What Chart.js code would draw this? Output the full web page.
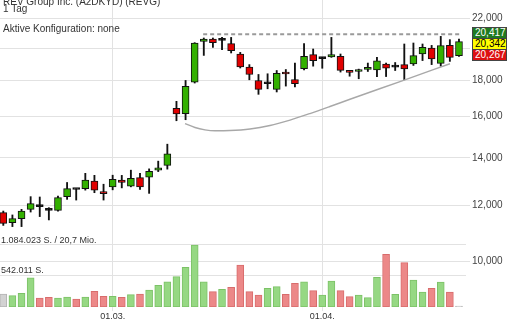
<!DOCTYPE html>
<html>
<head>
<meta charset="utf-8">
<script src="https://cdn.jsdelivr.net/npm/chart.js@4/dist/chart.umd.min.js"></script>
<style>
html,body{margin:0;padding:0;background:#fff;}
#wrap{position:relative;width:510px;height:320px;overflow:hidden;background:#fff;font-family:"Liberation Sans",Arial,sans-serif;}
#c{position:absolute;left:0;top:0;}
.t{position:absolute;white-space:nowrap;color:#333;font-size:10px;line-height:10px;}
.s{font-size:9px;line-height:9px;}
.q{position:absolute;left:472px;width:35px;height:12px;box-sizing:border-box;font-size:10px;line-height:10px;padding-left:2px;border:1px solid #444;}
</style>
</head>
<body>
<div id="wrap">
<canvas id="c" width="510" height="320"></canvas>
<div class="t" style="left:3px;top:-3px;">REV Group Inc. (A2DKYD) (REVG)</div>
<div class="t" style="left:3px;top:4px;">1 Tag</div>
<div class="t" style="left:3px;top:23.5px;">Aktive Konfiguration: none</div>
<div class="t s" id="volMax" style="left:1px;top:236px;"></div>
<div class="t s" id="volHalf" style="left:1px;top:266px;"></div>
<div class="q" id="q0" style="top:27px;background:#1f7a1f;color:#fff;"></div>
<div class="q" id="q1" style="top:38px;background:#ffff00;color:#000;"></div>
<div class="q" id="q2" style="top:49px;background:#dd1111;color:#fff;"></div>
</div>
<script>
// ---- data ----
const opens  = [11719,11345,11493,11845,11950,11807,11807,12344,12634,12669,12985,12528,12743,13024,12770,13128,13154,13452,13662,16442,16155,17907,20433,20593,20500,20283,19614,18804,18000,17808,17482,18497,18058,18697,19574,19325,19430,19462,18580,18533,18650,18630,18982,18800,18950,19000,19614,20000,19028,20170,19507];
const highs  = [11780,11632,11845,12344,12330,11910,12370,12925,12662,13314,13228,12852,13234,13226,13452,13314,13509,13852,14636,16821,18000,20350,20660,20660,20700,20700,19718,18950,18354,18395,18591,18650,19046,20283,19935,19400,20700,19614,18600,18675,19046,19400,19046,19080,20262,20327,20262,20170,20770,20550,20593];
const lows   = [11243,11200,11200,11742,11570,11445,11780,12236,12208,12608,12503,12208,12620,12700,12743,12637,12476,13390,13497,15793,15845,17850,19525,20040,19890,19680,18743,18040,17207,17520,17340,17674,17620,18630,18855,18727,19400,18497,18250,18100,18533,18230,18230,18590,18040,18900,19200,18950,18855,19150,19462];
const closes = [11319,11493,11780,12066,11950,11807,12305,12669,12634,13028,12608,12463,13057,12929,13099,12743,13398,13556,14180,16141,17653,20327,20593,20348,20500,19826,18804,18354,17482,17808,18420,18380,17808,19462,19200,19325,19574,18600,18478,18650,18790,19180,18726,18800,18690,19507,20040,19300,20150,19400,20417];
const volumes = [227000,198000,240000,512000,157000,169000,157000,175000,140000,175000,274000,187000,187000,170000,215000,227000,297000,379000,442000,530000,694000,1084023,442000,268000,309000,344000,734000,268000,210000,327000,355000,222000,414000,442000,285000,210000,455000,285000,180000,210000,163000,519000,921000,222000,775000,472000,262000,327000,437000,262000,8000];
const xTickIndex  = [12, 35];
const xTickLabels = ["01.03.", "01.04."];
const priceTicks  = [10000, 12000, 14000, 16000, 18000, 20000, 22000];
const volTicks    = [542011, 1084023];
const volTickText = ["542.011 S.", "1.084.023 S. / 20,7 Mio."];
const quotes      = ["20,417", "20,342", "20,267"];
const resistX = [21.93, 50.33];
const resistY = [20920, 20920];
const supportX = [19.94, 21.03, 22.13, 23.23, 24.87, 27.07, 29.26, 31.46, 33.65, 35.84, 38.04, 43.53, 49.01];
const supportY = [15651, 15449, 15334, 15289, 15299, 15374, 15549, 15829, 16167, 16539, 16934, 17936, 19003];

// ---- texts ----
document.getElementById('volMax').textContent = volTickText[1];
document.getElementById('volHalf').textContent = volTickText[0];
quotes.forEach((q, k) => document.getElementById('q' + k).textContent = q);

const idx = closes.map((_, i) => i);
const candleFill = i => closes[i] > opens[i] ? '#33b000' : (closes[i] < opens[i] ? '#e00000' : '#000');
const volFill = i => (i === 0 || i === volumes.length - 1) ? '#d2d2d2' : (closes[i] >= closes[i-1] ? '#96d883' : '#ec8888');
const volBorder = i => (i === 0 || i === volumes.length - 1) ? '#b4b4b4' : (closes[i] >= closes[i-1] ? '#7cc267' : '#d86c6c');

const GRID = '#e2e2e2';
const FONT = "'Liberation Sans', Arial, sans-serif";

new Chart(document.getElementById('c'), {
  type: 'bar',
  data: {
    datasets: [
      { type: 'line', data: supportX.map((x, k) => ({x, y: supportY[k]})), yAxisID: 'y', xAxisID: 'x',
        borderColor: '#a8a8a8', borderWidth: 1.4, pointRadius: 0, cubicInterpolationMode: 'monotone', order: 0 },
      { type: 'line', data: resistX.map((x, k) => ({x, y: resistY[k]})), yAxisID: 'y', xAxisID: 'x',
        borderColor: '#9a9a9a', borderWidth: 2, borderDash: [4, 3], pointRadius: 0, order: 0 },
      { type: 'bar', data: idx.map(i => ({x: i, y: [opens[i], closes[i]]})), yAxisID: 'y', xAxisID: 'x',
        backgroundColor: idx.map(candleFill), borderColor: '#111', borderWidth: 1, borderSkipped: false,
        barThickness: 7, minBarLength: 2, grouped: false, order: 1 },
      { type: 'bar', data: idx.map(i => ({x: i, y: [lows[i], highs[i]]})), yAxisID: 'y', xAxisID: 'x',
        backgroundColor: '#111', borderWidth: 0, barThickness: 1.2, grouped: false, order: 2 },
      { type: 'bar', data: idx.map(i => ({x: i, y: volumes[i]})), yAxisID: 'v', xAxisID: 'x',
        backgroundColor: idx.map(volFill), borderColor: idx.map(volBorder), borderWidth: 1, borderSkipped: false,
        barThickness: 7, minBarLength: 1, grouped: false, order: 3 }
    ]
  },
  options: {
    responsive: false,
    animation: false,
    events: [],
    layout: { padding: 0 },
    plugins: { legend: { display: false }, tooltip: { enabled: false }, title: { display: false } },
    scales: {
      x: {
        type: 'linear', position: 'bottom', min: -0.362, max: 50.77, offset: false,
        grid: { color: GRID, offset: false, tickLength: 4, drawTicks: true },
        border: { display: false },
        afterBuildTicks: s => { s.ticks = xTickIndex.map(v => ({value: v})); },
        ticks: { autoSkip: false, maxRotation: 0, padding: 0, color: '#333', font: { family: FONT, size: 9 },
                 callback: v => { const k = xTickIndex.indexOf(v); return k >= 0 ? xTickLabels[k] : ''; } },
        afterFit: s => { s.height = 13; s.paddingLeft = 0; s.paddingRight = 0; }
      },
      y: {
        type: 'logarithmic', position: 'right', min: 8627, max: 23373, bounds: 'data',
        grid: { color: GRID, tickLength: 4, drawTicks: true },
        border: { display: false },
        afterBuildTicks: s => { s.ticks = priceTicks.map(v => ({value: v})); },
        ticks: { autoSkip: false, padding: 2, color: '#444', font: { family: FONT, size: 10 },
                 callback: v => Number(v).toLocaleString('en-US') },
        afterFit: s => { s.width = 44; s.paddingTop = 0; s.paddingBottom = 0; }
      },
      v: {
        type: 'linear', position: 'left', min: 0, max: 5367600,
        grid: { color: GRID, drawTicks: false },
        border: { display: false },
        afterBuildTicks: s => { s.ticks = volTicks.map(v => ({value: v})); },
        ticks: { display: false },
        afterFit: s => { s.width = 0; s.paddingTop = 0; s.paddingBottom = 0; }
      }
    }
  }
});
</script>
</body>
</html>
